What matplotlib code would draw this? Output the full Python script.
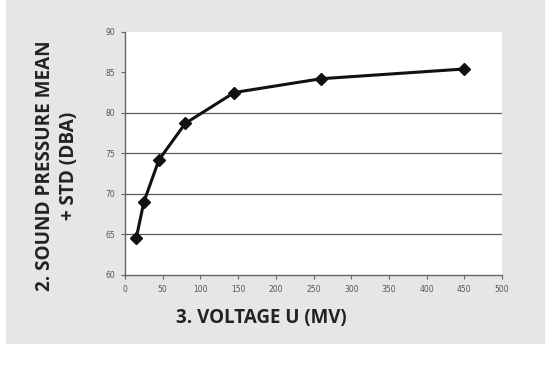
import matplotlib.pyplot as plt
from matplotlib.patches import Rectangle

voltage = [15, 25, 45, 80, 145, 260, 450]
pressure = [64.6, 69.0, 74.2, 78.7, 82.5, 84.2, 85.4]
xticks = list(range(0, 501, 50))
yticks = list(range(60, 91, 5))
grid_levels = [65, 70, 75, 80]

fig = plt.figure(figsize=(5.5, 3.67), dpi=100)
fig.patch.set_facecolor("white")
bg = Rectangle((6 / 550, 1 - 344 / 367), 539 / 550, 344 / 367,
               transform=fig.transFigure, facecolor="#e6e6e8",
               edgecolor="none", zorder=-10)
fig.add_artist(bg)

ax = fig.add_axes([0.2273, 0.2507, 0.6855, 0.663])
ax.set_facecolor("white")
for y in grid_levels:
    ax.axhline(y, color="#5a5a5a", lw=0.9, zorder=1)
ax.plot(voltage, pressure, color="#111111", lw=2.2, marker="D", ms=6, zorder=3)

ax.set_xlim(0, 500)
ax.set_ylim(60, 90)
ax.set_xticks(xticks)
ax.set_yticks(yticks)
ax.tick_params(labelsize=5.5, labelcolor="#555555", color="#666666", length=3,
               width=0.8, pad=4)
for s in ["top", "right"]:
    ax.spines[s].set_visible(False)
for s in ["left", "bottom"]:
    ax.spines[s].set_color("#666666")
    ax.spines[s].set_linewidth(1)

fig.text(0.475, 0.133, "3. VOLTAGE U (MV)", fontsize=13.5, fontweight="bold",
         family="Open Sans", color="#222222", ha="center", va="center")
fig.text(0.104, 0.548, "2. SOUND PRESSURE MEAN\n+ STD (DBA)", fontsize=13.6,
         fontweight="bold", family="Open Sans", color="#222222", ha="center",
         va="center", rotation=90, linespacing=1.25)

fig.savefig("out.png", dpi=100)
